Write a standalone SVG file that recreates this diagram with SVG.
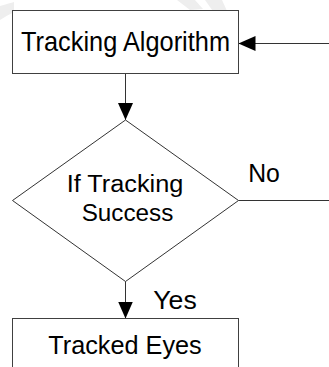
<svg xmlns="http://www.w3.org/2000/svg" width="329" height="367" viewBox="0 0 329 367">
<style>
.box{fill:#fff;stroke:#404040;stroke-width:1}
.ln{fill:none;stroke:#333;stroke-width:1}
.t{font-family:"Liberation Sans",Arial,sans-serif;font-size:25px;fill:#000;text-anchor:middle}
.wm{fill:#eeeeee}
</style>
<defs>
<marker id="ah" viewBox="0 0 17 15" refX="17" refY="7.5" markerWidth="17" markerHeight="15" markerUnits="userSpaceOnUse" orient="auto">
<path d="M0,0 L17,7.5 L0,15 Z" fill="#000"/>
</marker>
</defs>
<g id="watermark">
<path class="wm" d="M177,0 L195,0 L203,9 L190,10 Z"/>
<path class="wm" d="M205,0 L222,0 L232,22 L222,24 Z"/>
<path class="wm" d="M0,6 Q10,3 14,2 L14,12 Q6,16 0,20 Z"/>
</g>
<g id="connectors">
<line class="ln" x1="329" y1="43.5" x2="238.5" y2="43.5" marker-end="url(#ah)"/>
<line class="ln" x1="125.5" y1="73.5" x2="125.5" y2="120" marker-end="url(#ah)"/>
<line class="ln" x1="238.5" y1="200.5" x2="329" y2="200.5"/>
<line class="ln" x1="125.5" y1="281.5" x2="125.5" y2="318.5" marker-end="url(#ah)"/>
<text class="t" x="264" y="182" textLength="31.7" lengthAdjust="spacingAndGlyphs">No</text>
<text class="t" x="175" y="308.5" textLength="43.4" lengthAdjust="spacingAndGlyphs">Yes</text>
</g>
<g id="tracking-algorithm">
<rect class="box" x="12.5" y="10.5" width="226" height="63"/>
<text class="t" x="125.5" y="50.5" style="font-size:27.5px" textLength="209" lengthAdjust="spacingAndGlyphs">Tracking Algorithm</text>
</g>
<g id="if-tracking-success">
<path class="ln" d="M125.5,120 L238.5,200.5 L125.5,281.5 L12.5,200.5 Z" fill="#fff"/>
<text class="t" x="125" y="192" style="font-size:23.5px" textLength="116.7" lengthAdjust="spacingAndGlyphs">If Tracking</text>
<text class="t" x="127.5" y="221" style="font-size:23.5px" textLength="91.7" lengthAdjust="spacingAndGlyphs">Success</text>
</g>
<g id="tracked-eyes">
<rect class="box" x="12.5" y="318.5" width="226" height="60"/>
<text class="t" x="125" y="353.5" style="font-size:25.5px" textLength="153.4" lengthAdjust="spacingAndGlyphs">Tracked Eyes</text>
</g>
</svg>
